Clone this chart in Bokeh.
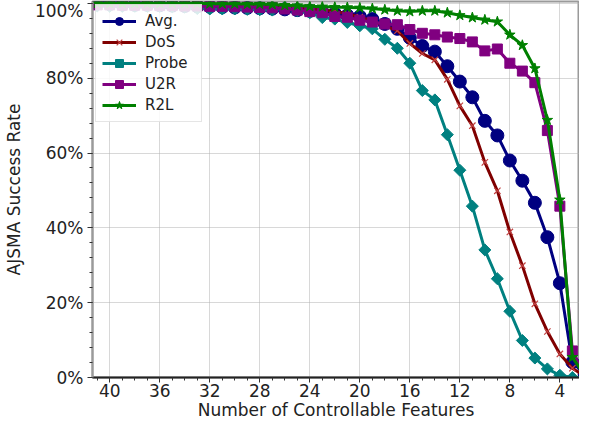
import numpy as np
from bokeh.plotting import figure
from bokeh.models import Range1d, SingleIntervalTicker, PrintfTickFormatter
from bokeh.embed import file_html
from bokeh.resources import INLINE

features = list(range(41, 1, -1))

avg = [100, 99.8, 99.7, 99.6, 99.6, 99.5, 99.4, 99.3, 99.2, 99.1, 99.0, 98.9, 98.8, 98.7,
       98.6, 98.4, 98.2, 98.0, 97.7, 97.3, 96.8, 96.5, 95.8, 94.5, 93.2, 90.8, 88.6, 87.1,
       83.2, 79.1, 74.9, 68.6, 64.7, 58.0, 52.6, 46.7, 37.5, 25.2, 4.1, 0.8]
dos = [100, 100, 100, 100, 100, 99.9, 99.9, 99.9, 99.9, 99.8, 99.8, 99.7, 99.6, 99.5,
       99.3, 99.0, 98.8, 98.5, 98.2, 97.8, 97.3, 96.3, 95.3, 94.0, 92.7, 89.3, 86.6, 84.9,
       79.7, 72.6, 67.3, 57.5, 49.9, 38.9, 29.9, 19.7, 12.3, 6.3, 2.5, 0.3]
probe = [99.3, 99.2, 99.2, 99.2, 99.2, 99.2, 99.1, 99.0, 98.6, 98.5, 98.5, 98.5, 98.4, 98.3,
         98.2, 98.8, 98.0, 97.5, 96.2, 95.8, 94.9, 94.0, 93.2, 90.4, 88.0, 84.0, 76.7, 74.2,
         64.9, 55.4, 45.8, 34.1, 26.4, 17.7, 9.9, 5.2, 2.3, 0.6, 0.0, 0.0]
u2r = [99.6, 99.6, 99.5, 99.5, 99.5, 99.4, 99.4, 99.3, 99.3, 99.2, 99.2, 99.1, 99.0, 98.9,
       98.8, 98.5, 98.2, 97.8, 97.5, 96.5, 96.3, 95.5, 95.0, 94.5, 94.3, 93.0, 92.0, 91.6,
       91.0, 90.6, 89.7, 87.3, 87.8, 84.0, 81.9, 78.8, 66.0, 45.8, 7.1, 0.5]
r2l = [100, 100, 100, 100, 100, 100, 100, 100, 100, 99.9, 99.9, 99.9, 99.8, 99.8,
       99.7, 99.5, 99.4, 99.2, 99.1, 99.0, 98.9, 98.8, 98.6, 98.3, 98.0, 97.8, 98.0, 98.0,
       97.5, 96.8, 96.2, 95.6, 95.1, 91.6, 88.8, 82.6, 68.8, 47.5, 5.4, 0.5]

x_title = "Number of Controllable Features"
y_title = "AJSMA Success Rate"

p = figure(width=579, height=422, output_backend="svg", toolbar_location=None,
           x_range=Range1d(41.38, 2.43), y_range=Range1d(0, 100.5),
           min_border_left=78, min_border_right=0, min_border_top=1, min_border_bottom=0)
p.background_fill_color = "white"
p.border_fill_color = "white"
p.outline_line_color = "#9a9a9a"
p.outline_line_width = 2

FONT = "DejaVu Sans"

# grid
p.xgrid.ticker = SingleIntervalTicker(interval=4, num_minor_ticks=4)
p.ygrid.ticker = SingleIntervalTicker(interval=20, num_minor_ticks=5)
for g in (p.xgrid, p.ygrid):
    g.grid_line_color = "#b0b0b0"
    g.grid_line_dash = "1 1"
    g.grid_line_width = 1

p.xaxis.ticker = SingleIntervalTicker(interval=4, num_minor_ticks=4)
p.yaxis.ticker = SingleIntervalTicker(interval=20, num_minor_ticks=5)
p.yaxis.formatter = PrintfTickFormatter(format="%d%%")
p.xaxis.axis_label = x_title
p.yaxis.axis_label = y_title
for ax in (p.xaxis, p.yaxis):
    ax.axis_label_text_font = FONT
    ax.axis_label_text_font_style = "normal"
    ax.axis_label_text_font_size = "17px"
    ax.axis_label_text_color = "#222222"
    ax.major_label_text_font = FONT
    ax.major_label_text_font_size = "17px"
    ax.major_label_text_color = "#222222"
    ax.major_tick_out = 5
    ax.major_tick_in = 0
    ax.minor_tick_out = 3
    ax.minor_tick_in = 0
    ax.major_tick_line_color = "#333333"
    ax.minor_tick_line_color = "#333333"
p.xaxis.axis_line_color = "#222222"
p.xaxis.axis_line_width = 2
p.yaxis.axis_line_color = "#9a9a9a"
p.yaxis.axis_line_width = 2
p.yaxis.axis_label_standoff = 8
p.xaxis.axis_label_standoff = 0
p.xaxis.major_label_standoff = 1
p.yaxis.major_label_standoff = 4

lw = 3
p.line(features, avg, line_color="#000080", line_width=lw, legend_label="Avg.")
p.scatter(features, avg, marker="circle", size=13, fill_color="#000080", line_color="#000080",
          legend_label="Avg.")

p.line(features, dos, line_color="#800000", line_width=lw, legend_label="DoS")
p.scatter(features, dos, marker="x", size=9, line_color="#c04040", line_width=1.2,
          legend_label="DoS")

p.line(features, probe, line_color="#008080", line_width=lw, legend_label="Probe")
p.scatter(features, probe, marker="square", angle=np.pi / 4, size=8.5, fill_color="#008080",
          line_color="#008080", legend_label="Probe")

p.line(features, u2r, line_color="#800080", line_width=lw, legend_label="U2R")
p.scatter(features, u2r, marker="square", size=10, fill_color="#800080", line_color="#800080",
          legend_label="U2R")

p.line(features, r2l, line_color="#008000", line_width=lw, legend_label="R2L")
p.scatter(features, r2l, marker="star", size=11, fill_color="#008000", line_color="#008000",
          legend_label="R2L")

p.legend.location = "top_left"
p.legend.label_text_font = FONT
p.legend.label_text_font_size = "15px"
p.legend.label_text_color = "#222222"
p.legend.glyph_width = 34
p.legend.glyph_height = 20
p.legend.label_height = 17
p.legend.label_width = 50
p.legend.label_standoff = 9
p.legend.spacing = 1
p.legend.padding = 6
p.legend.margin = 3
p.legend.border_line_color = "#cccccc"
p.legend.border_line_width = 1
p.legend.background_fill_alpha = 0.85

open("out.html", "w").write(file_html(p, INLINE))
